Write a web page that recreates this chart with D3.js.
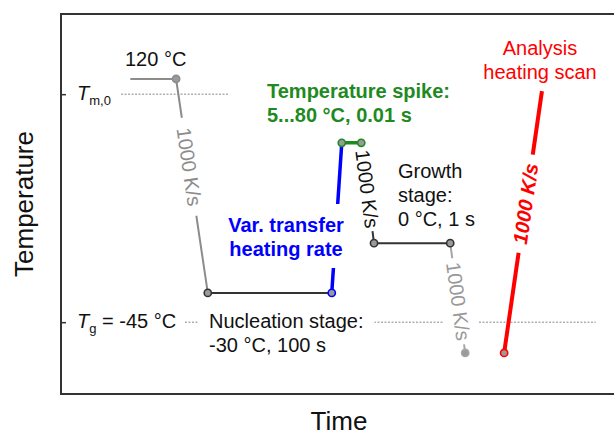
<!DOCTYPE html>
<html>
<head>
<meta charset="utf-8">
<script src="https://cdn.jsdelivr.net/npm/d3@7"></script>
<style>
  html, body { margin: 0; padding: 0; background: #fff; }
  svg { display: block; font-family: "Liberation Sans", Arial, Helvetica, sans-serif; }
</style>
</head>
<body>
<svg id="chart" width="614" height="437"></svg>
<script>
// Schematic thermal protocol, in arbitrary time / temperature units (0-100)
const profileTime = [12.6, 20.7, 26.4, 48.7, 50.5, 54.0, 56.3, 70.0, 72.7];
const profileTemp = [82.9, 82.9, 26.6, 26.6, 66.1, 66.1, 39.7, 39.7, 10.8];
const scanTime = [79.7, 86.5];
const scanTemp = [10.8, 79.7];
const refLevels = [78.9, 18.9];          // T_m,0 and T_g
const refLineStart = [10.8, 22.3];
const refLineEnd = [30.2, 96.2];
const rateLabel = "1000 K/s";

const svg = d3.select("#chart");
const frame = { left: 61, top: 14, right: 617, bottom: 394 };

const x = d3.scaleLinear().domain([0, 100]).range([frame.left, frame.right]);
const y = d3.scaleLinear().domain([0, 100]).range([frame.bottom, frame.top]);

const GRAY = "#8c8c8c", DARK = "#333333", BLUE = "#0000ff", GREEN = "#1f8a1f", RED = "#ff0000";
const FS = 20;

// Frame
svg.append("rect")
  .attr("x", frame.left).attr("y", frame.top)
  .attr("width", frame.right - frame.left).attr("height", frame.bottom - frame.top)
  .attr("fill", "none").attr("stroke", DARK).attr("stroke-width", 2);

// Inward ticks at the two reference temperatures
const yAxis = d3.axisLeft(y).tickValues(refLevels).tickSizeInner(-5).tickSizeOuter(0).tickFormat("");
const ga = svg.append("g").attr("transform", `translate(${frame.left},0)`).call(yAxis);
ga.select(".domain").remove();
ga.selectAll(".tick line").attr("stroke", DARK).attr("stroke-width", 1.5);

// Reference level labels
const tm = svg.append("text").attr("x", 77).attr("y", y(refLevels[0]) + 6)
  .attr("font-size", FS).attr("fill", "#111");
tm.append("tspan").attr("font-style", "italic").text("T");
tm.append("tspan").attr("font-size", 13).attr("dy", 5).text("m,0");

const tg = svg.append("text").attr("x", 77).attr("y", y(refLevels[1]) + 6)
  .attr("font-size", FS).attr("fill", "#111");
tg.append("tspan").attr("font-style", "italic").text("T");
tg.append("tspan").attr("font-size", 13).attr("dy", 5).text("g");
tg.append("tspan").attr("dy", -5).text(" = -45 °C");

// Dotted reference lines
refLevels.forEach((lv, i) => {
  svg.append("line")
    .attr("x1", x(refLineStart[i])).attr("x2", x(refLineEnd[i]))
    .attr("y1", y(lv)).attr("y2", y(lv))
    .attr("stroke", "#888").attr("stroke-width", 1)
    .attr("stroke-dasharray", "2,1.5");
});

// Profile segments
const segStyle = [
  { c: GRAY, w: 2 }, { c: GRAY, w: 2 }, { c: DARK, w: 2 }, { c: BLUE, w: 3.5 },
  { c: GREEN, w: 3.5 }, { c: DARK, w: 2 }, { c: DARK, w: 2 }, { c: "#a6a6a6", w: 2 }
];
const pts = profileTime.map((t, i) => [x(t), y(profileTemp[i])]);
for (let i = 0; i < pts.length - 1; i++) {
  svg.append("line")
    .attr("x1", pts[i][0]).attr("y1", pts[i][1])
    .attr("x2", pts[i + 1][0]).attr("y2", pts[i + 1][1])
    .attr("stroke", segStyle[i].c).attr("stroke-width", segStyle[i].w)
    .attr("stroke-linecap", "round");
}

// Analysis heating scan
const scanPts = scanTime.map((t, i) => [x(t), y(scanTemp[i])]);
svg.append("line")
  .attr("x1", scanPts[0][0]).attr("y1", scanPts[0][1])
  .attr("x2", scanPts[1][0]).attr("y2", scanPts[1][1])
  .attr("stroke", RED).attr("stroke-width", 4);

// Rate labels laid along their segments, on a white patch
function rateText(p0, p1, frac, color, opts) {
  const cx = p0[0] + (p1[0] - p0[0]) * frac;
  const cy = p0[1] + (p1[1] - p0[1]) * frac;
  const ang = Math.atan2(p1[1] - p0[1], p1[0] - p0[0]) * 180 / Math.PI;
  const g = svg.append("g").attr("transform", `translate(${cx},${cy}) rotate(${ang})`);
  const bg = g.append("rect").attr("fill", "#fff");
  const t = g.append("text").attr("text-anchor", "middle").attr("dy", "0.35em")
    .attr("font-size", FS).attr("fill", color)
    .attr("font-weight", opts.bold ? "bold" : "normal")
    .attr("font-style", opts.italic ? "italic" : "normal")
    .text(rateLabel);
  const b = t.node().getBBox();
  bg.attr("x", b.x - opts.pad).attr("width", b.width + 2 * opts.pad)
    .attr("y", -17).attr("height", 34);
}
rateText(pts[1], pts[2], 0.41, GRAY, { pad: 10 });
rateText(pts[5], pts[6], 0.46, "#111", { pad: 3 });
rateText(pts[7], pts[8], 0.53, "#999", { pad: 4 });
rateText(scanPts[0], scanPts[1], 0.57, RED, { pad: 9, bold: true, italic: true });

// Multi-line annotations
function block(lines, px, py, color, opts = {}) {
  const g = svg.append("g");
  const bg = opts.bg ? g.append("rect").attr("fill", "#fff") : null;
  const t = g.append("text").attr("x", px).attr("y", py)
    .attr("font-size", FS).attr("fill", color)
    .attr("font-weight", opts.bold ? "bold" : "normal")
    .attr("text-anchor", opts.anchor || "start");
  lines.forEach((s, i) => {
    t.append("tspan").attr("x", px).attr("dy", i === 0 ? 0 : 24).text(s);
  });
  if (bg) {
    const b = t.node().getBBox();
    bg.attr("x", b.x - 11).attr("y", b.y - 10)
      .attr("width", b.width + 22).attr("height", b.height + 18);
  }
}
block(["120 °C"], 125, 66, "#111");
block(["Temperature spike:", "5...80 °C, 0.01 s"], 267, 98, GREEN, { bold: true });
block(["Var. transfer", "heating rate"], 286, 232, BLUE, { bold: true, bg: true, anchor: "middle" });
block(["Growth", "stage:", "0 °C, 1 s"], 398, 178, "#111");
block(["Nucleation stage:", "-30 °C, 100 s"], 209, 328, "#111", { bg: true });
block(["Analysis", "heating scan"], 540, 55, RED, { anchor: "middle" });

// Stage markers
const markerStroke = [null, GRAY, DARK, BLUE, GREEN, GREEN, DARK, DARK, "#a6a6a6"];
pts.forEach((p, i) => {
  if (!markerStroke[i]) return;
  svg.append("circle").attr("cx", p[0]).attr("cy", p[1]).attr("r", 3.6)
    .attr("fill", "#9a9a9a").attr("stroke", markerStroke[i]).attr("stroke-width", 1.6);
});
svg.append("circle").attr("cx", scanPts[0][0]).attr("cy", scanPts[0][1]).attr("r", 3.6)
  .attr("fill", "#9a9a9a").attr("stroke", RED).attr("stroke-width", 1.6);

// Axis titles
svg.append("text").attr("x", (frame.left + frame.right) / 2).attr("y", 430)
  .attr("text-anchor", "middle").attr("font-size", 26).attr("fill", "#111").text("Time");
svg.append("text").attr("transform", "translate(33,204) rotate(-90)")
  .attr("text-anchor", "middle").attr("font-size", 26).attr("fill", "#111").text("Temperature");
</script>
</body>
</html>
